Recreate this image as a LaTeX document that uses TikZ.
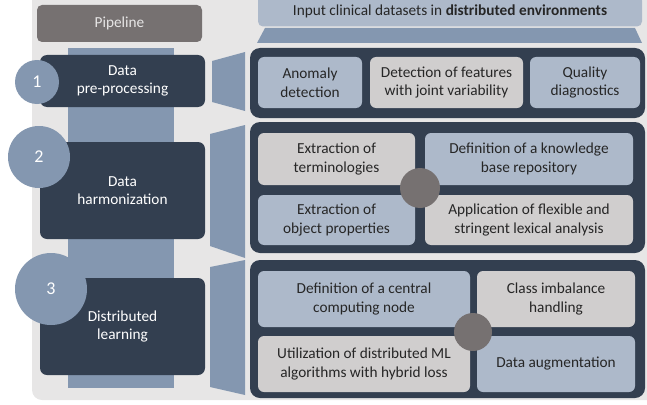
\documentclass[tikz,border=0pt]{standalone}
\usepackage{fontspec}
\setmainfont{Carlito}
\definecolor{slatedark}{HTML}{333F50}
\definecolor{steelbar}{HTML}{8497B0}
\definecolor{paleblue}{HTML}{ADB9CA}
\definecolor{palegrey}{HTML}{D0CECE}
\definecolor{hubgrey}{HTML}{767171}
\definecolor{backgrey}{HTML}{E7E6E6}
\definecolor{inktext}{HTML}{262626}
\tikzset{
  stepbox/.style={fill=slatedark, rounded corners=7pt, text=white, align=center, inner sep=0pt},
  rowpanel/.style={fill=slatedark, rounded corners=10pt},
  bluecell/.style={fill=paleblue, rounded corners=6pt, text=inktext, align=center, inner sep=0pt},
  greycell/.style={fill=palegrey, rounded corners=6pt, text=inktext, align=center, inner sep=0pt},
  badge/.style={circle, fill=steelbar, text=white, inner sep=0pt, font=\fontsize{18}{20}\selectfont},
  hub/.style={circle, fill=hubgrey, inner sep=0pt},
  funnel/.style={fill=steelbar}
}
\begin{document}
\begin{tikzpicture}[x=1pt,y=-1pt,font=\fontsize{15.3}{18.5}\selectfont]
			\useasboundingbox (0,0) rectangle (647,404);
			\fill[backgrey, rounded corners=10pt] (32,-10) rectangle (660,400);
			\node[fill=hubgrey, rounded corners=5pt, text=backgrey, minimum width=165pt, minimum height=37pt] (pipeline) at (119.5,23.5) {Pipeline};
			\fill[steelbar] (68,48) rectangle (174,388);
			\node[stepbox, minimum width=165pt, minimum height=52pt] (prep) at (122.5,81) {Data\\pre-processing};
			\node[stepbox, minimum width=165pt, minimum height=97pt] (harm) at (122.5,190.5) {Data\\harmonization};
			\node[stepbox, minimum width=165pt, minimum height=97pt] (learn) at (122.5,326.5) {Distributed\\learning};
			\node[badge, minimum size=44pt] (one) at (37,82) {1};
			\node[badge, minimum size=62pt] (two) at (39,157) {2};
			\node[badge, minimum size=72pt] (three) at (51,289) {3};
			\fill[funnel] (212,61) -- (245,52) -- (245,111) -- (212,102) -- cycle;
			\fill[funnel] (210,134) -- (245,125) -- (245,258) -- (210,246) -- cycle;
			\fill[funnel] (210,267) -- (245,260) -- (245,395) -- (210,387) -- cycle;
			\node[fill=paleblue, rounded corners=5pt, text=inktext, minimum width=384pt, minimum height=31pt] (input) at (450,11) {Input clinical datasets in \textbf{distributed environments}};
			\fill[funnel] (265,28) -- (635,28) -- (642,43) -- (257,43) -- cycle;
			\fill[rowpanel] (250,48) rectangle (645,118);
			\fill[rowpanel] (250,122) rectangle (645,253);
			\fill[rowpanel] (250,260) rectangle (645,398);
			\node[bluecell, minimum width=104pt, minimum height=51pt] (anomaly) at (310,82.5) {Anomaly\\detection};
			\node[greycell, minimum width=153pt, minimum height=51pt] (joint) at (446.5,82.5) {Detection of features\\with joint variability};
			\node[bluecell, minimum width=110pt, minimum height=51pt] (quality) at (585,82.5) {Quality\\diagnostics};
			\node[greycell, minimum width=157pt, minimum height=52pt] (terms) at (336.5,159) {Extraction of\\terminologies};
			\node[bluecell, minimum width=208pt, minimum height=52pt] (kbase) at (529,159) {Definition of a knowledge\\base repository};
			\node[bluecell, minimum width=157pt, minimum height=50pt] (props) at (336.5,220) {Extraction of\\object properties};
			\node[greycell, minimum width=208pt, minimum height=50pt] (lexical) at (529,220) {Application of flexible and\\stringent lexical analysis};
			\node[hub, minimum size=40pt] (harmhub) at (420,188) {};
			\node[bluecell, minimum width=212pt, minimum height=56pt] (central) at (364,299) {Definition of a central\\computing node};
			\node[greycell, minimum width=158pt, minimum height=56pt] (imbalance) at (556,299) {Class imbalance\\handling};
			\node[greycell, minimum width=212pt, minimum height=56pt] (hybrid) at (364,364) {Utilization of distributed ML\\algorithms with hybrid loss};
			\node[bluecell, minimum width=158pt, minimum height=56pt] (augment) at (556,364) {Data augmentation};
			\node[hub, minimum size=38pt] (learnhub) at (473,332) {};
\end{tikzpicture}
\end{document}
